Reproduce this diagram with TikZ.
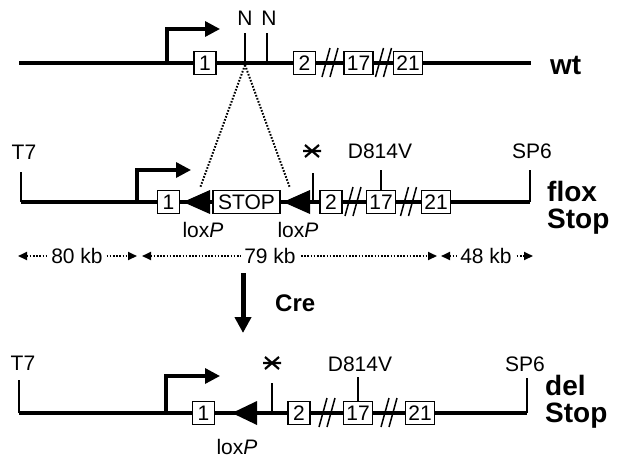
\documentclass[tikz,border=0pt]{standalone}
\usepackage{fontspec}
\setmainfont{Liberation Sans}
\usetikzlibrary{arrows.meta}
\begin{document}
\begin{tikzpicture}[x=1pt,y=-1pt,
  gene/.style={line width=3.3pt},
  endbar/.style={line width=2.2pt},
  tickline/.style={line width=1.6pt},
  prom/.style={line width=3.3pt,-{Triangle[length=15pt,width=15pt]}},
  exon/.style={draw,line width=1.5pt,fill=white,minimum height=23pt,minimum width=22pt,inner xsep=3pt,inner ysep=0pt,font=\fontsize{21}{21}\selectfont},
  lab/.style={font=\fontsize{21}{21}\selectfont,inner sep=0pt},
  big/.style={font=\fontsize{28}{28}\selectfont\bfseries,inner sep=0pt,anchor=base west},
  dots/.style={line width=2pt,dash pattern=on 1.6pt off 1.6pt},
  dist/.style={dots,{Triangle[length=9pt,width=8pt]}-{Triangle[length=9pt,width=8pt]}},
  brk/.pic={\draw[line width=1.5pt] (-8,14)--(0,-15) (0,14)--(8,-15);},
  starsym/.pic={\draw[line width=2.2pt] (-9,0)--(9,0) (-7,-6)--(7,6) (-7,6)--(7,-6);}
]
\useasboundingbox (0,0) rectangle (620,458);

% ---------------- row 1 : wt
\coordinate (a0) at (19,63);
\coordinate (a1) at (531,63);
\draw[gene] (a0) -- (a1);
\coordinate (ap0) at (167,63);
\coordinate (ap1) at (167,29);
\coordinate (ap2) at (220,29);
\draw[prom] (ap0) -- (ap1) -- (ap2);
\coordinate (n1b) at (245,63);
\coordinate (n1t) at (245,33);
\coordinate (n2b) at (267,63);
\coordinate (n2t) at (267,33);
\draw[tickline] (n1b) -- (n1t);
\draw[tickline] (n2b) -- (n2t);
\node[lab] (n1) at (245,18) {N};
\node[lab] (n2) at (269,18) {N};
\node[exon] (w1) at (205,63) {1};
\pic at (330,63) {brk};
\pic at (383.5,63) {brk};
\node[exon] (w2) at (304.5,63) {2};
\node[exon] (w17) at (358.5,63) {17};
\node[exon] (w21) at (408,63) {21};
\node[big] (wt) at (550,74) {wt};

% dotted zoom lines
\coordinate (z0) at (245,65);
\coordinate (zl) at (200,188);
\coordinate (zr) at (290,188);
\draw[dots] (z0) -- (zl);
\draw[dots] (z0) -- (zr);

% ---------------- row 2 : flox Stop
\coordinate (b0t) at (21,172);
\coordinate (b0) at (21,202);
\coordinate (b1) at (530,202);
\coordinate (b1t) at (530,170);
\draw[gene] (b0) -- (b1);
\draw[endbar] (b0t) -- (b0);
\draw[endbar] (b1t) -- (b1);
\node[lab] (t7a) at (24,152) {T7};
\node[lab] (sp6a) at (532,151) {SP6};
\coordinate (bp0) at (137,202);
\coordinate (bp1) at (137,170);
\coordinate (bp2) at (191,170);
\draw[prom] (bp0) -- (bp1) -- (bp2);
\node[exon] (f1) at (168.5,202) {1};
\fill (183,202) -- (210,190) -- (210,214) -- cycle;
\node[exon,minimum width=67pt] (stop) at (246.5,202) {STOP};
\fill (283,202) -- (310,190) -- (310,214) -- cycle;
\node[lab] (lx1) at (203,230) {lox\textit{P}};
\node[lab] (lx2) at (298,230) {lox\textit{P}};
\coordinate (sb) at (313,202);
\coordinate (st) at (313,173);
\draw[tickline] (sb) -- (st);
\pic at (312,151) {starsym};
\pic at (353,202) {brk};
\pic at (408.5,202) {brk};
\node[exon] (f2) at (331,202) {2};
\node[exon] (f17) at (381,202) {17};
\node[exon] (f21) at (436,202) {21};
\coordinate (db) at (381,191);
\coordinate (dt) at (381,170);
\draw[tickline] (db) -- (dt);
\node[lab] (dva) at (380,151) {D814V};
\node[big] (flox) at (547,201) {flox};
\node[big] (stopa) at (547,228) {Stop};

% ---------------- distances
\coordinate (d0) at (18,256);
\coordinate (d1) at (137,256);
\coordinate (d2) at (142,256);
\coordinate (d3) at (437,256);
\coordinate (d4) at (441,256);
\coordinate (d5) at (533,256);
\draw[dist] (d0) -- (d1);
\draw[dist] (d2) -- (d3);
\draw[dist] (d4) -- (d5);
\node[lab,fill=white,inner xsep=3pt] (k80) at (77,256) {80 kb};
\node[lab,fill=white,inner xsep=3pt] (k79) at (270,256) {79 kb};
\node[lab,fill=white,inner xsep=3pt] (k48) at (486,256) {48 kb};

% ---------------- Cre
\coordinate (c0) at (243,273);
\coordinate (c1) at (243,333);
\draw[line width=5pt,-{Triangle[length=16pt,width=16pt]}] (c0) -- (c1);
\node[font=\fontsize{24}{24}\selectfont\bfseries,inner sep=0pt,anchor=west] (cre) at (275,303) {Cre};

% ---------------- row 3 : del Stop
\coordinate (e0t) at (19,380);
\coordinate (e0) at (19,413);
\coordinate (e1) at (527,413);
\coordinate (e1t) at (527,378);
\draw[gene] (e0) -- (e1);
\draw[endbar] (e0t) -- (e0);
\draw[endbar] (e1t) -- (e1);
\node[lab] (t7b) at (23,363) {T7};
\node[lab] (sp6b) at (525,364) {SP6};
\coordinate (ep0) at (166,413);
\coordinate (ep1) at (166,376);
\coordinate (ep2) at (220,376);
\draw[prom] (ep0) -- (ep1) -- (ep2);
\node[exon] (g1) at (203.5,413) {1};
\fill (232,413) -- (257,401) -- (257,425) -- cycle;
\node[lab] (lx3) at (237,447) {lox\textit{P}};
\coordinate (sb3) at (272,413);
\coordinate (st3) at (272,383);
\draw[tickline] (sb3) -- (st3);
\pic at (272,363) {starsym};
\pic at (327,413) {brk};
\pic at (389,413) {brk};
\node[exon] (g2) at (299,413) {2};
\node[exon] (g17) at (358,413) {17};
\node[exon] (g21) at (420,413) {21};
\coordinate (db3) at (358,401.5);
\coordinate (dt3) at (358,377);
\draw[tickline] (db3) -- (dt3);
\node[lab] (dvb) at (360,364) {D814V};
\node[big] (del) at (545,395) {del};
\node[big] (stopb) at (545,422) {Stop};
\end{tikzpicture}
\end{document}
